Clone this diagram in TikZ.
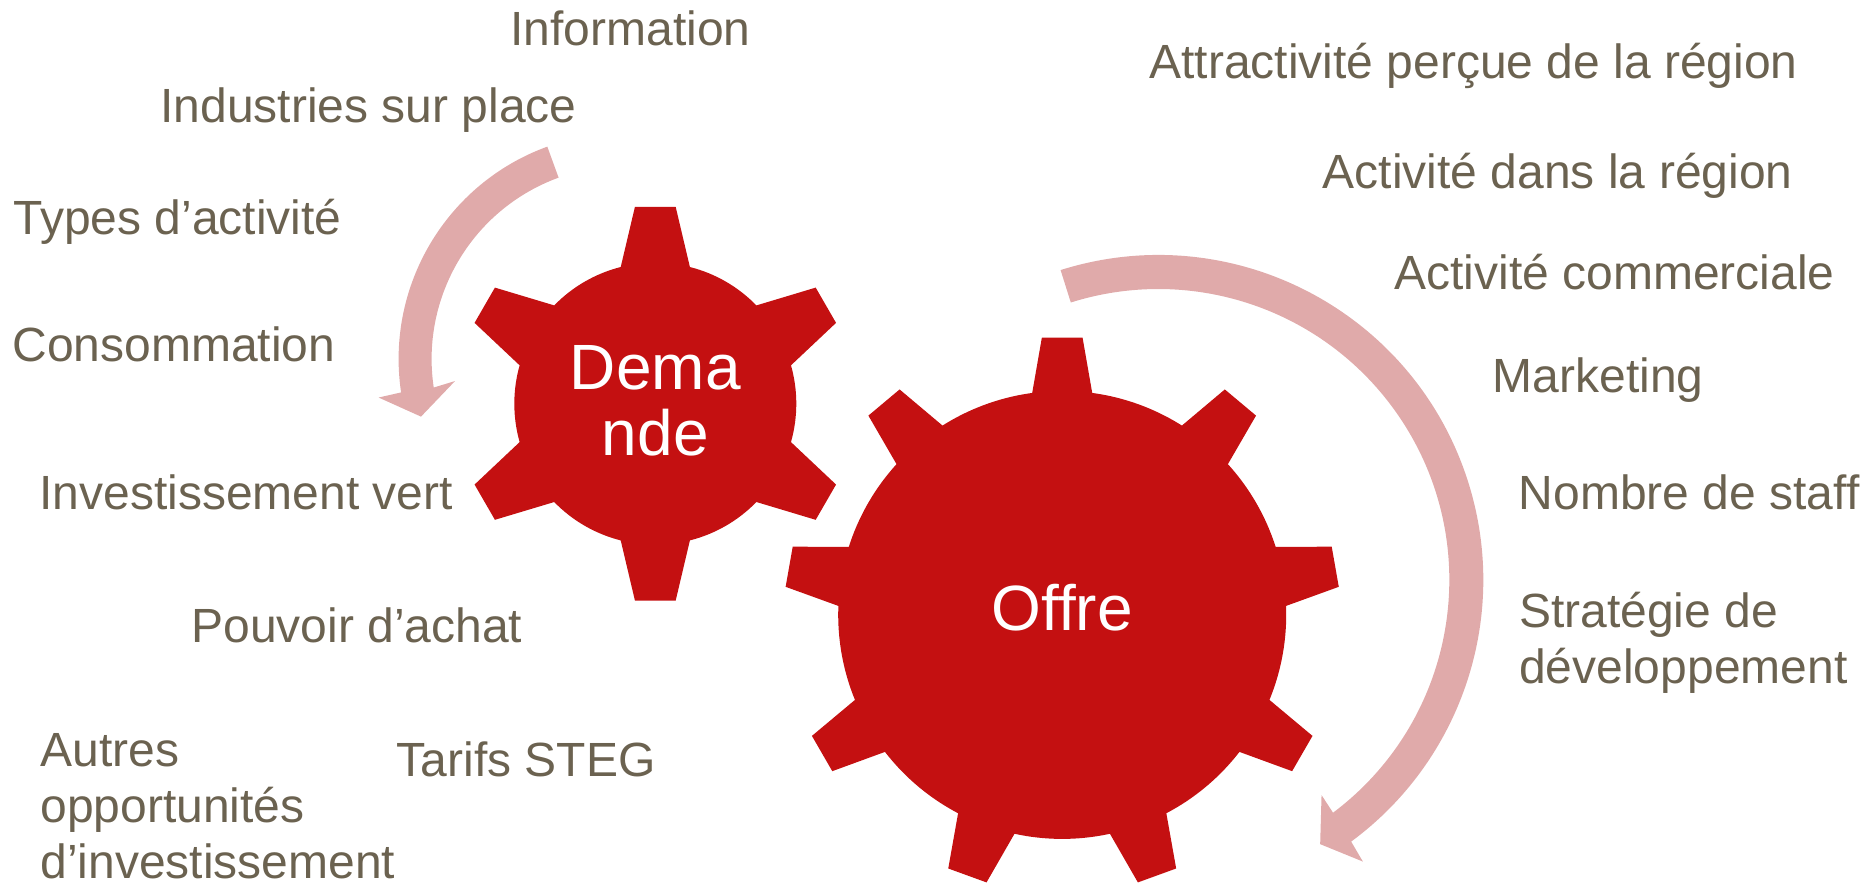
\documentclass[tikz,border=0pt]{standalone}
\usepackage{fontspec}
\setmainfont{Liberation Sans}
\definecolor{gearred}{RGB}{196,16,17}
\definecolor{arrowpink}{RGB}{224,170,170}
\definecolor{textbrown}{RGB}{107,98,80}
\tikzset{
  lbl/.style={anchor=base west, inner sep=0pt, text=textbrown, font=\fontsize{24}{28}\selectfont},
  gearlbl/.style={inner sep=0pt, text=white, align=center, font=\fontsize{32}{33}\selectfont}
}
\newcommand{\lines}[1]{\begin{tabular}[t]{@{}l@{}}#1\end{tabular}}

\begin{document}
\begin{tikzpicture}[x=0.5pt, y=0.5pt]
    \useasboundingbox (0,0) rectangle (1866,-885);

    % circular arrows
    \begin{scope}[shift={(624.6,-359)}]
        \fill[arrowpink] (110:226) arc[start angle=110, end angle=188.5, radius=226]
            -- (188.9:249) -- (195.8:211.6) -- (187.4:171) -- (188.5:193)
            arc[start angle=188.5, end angle=110, radius=193] -- cycle;
    \end{scope}
    \begin{scope}[shift={(1158.3,-580)}]
        \fill[arrowpink] (107.5:325) arc[start angle=107.5, end angle=-53.6, radius=325]
            -- (-54:348) -- (-58.5:309.8) -- (-52.8:270) -- (-53.1:291)
            arc[start angle=-53.1, end angle=107.5, radius=291] -- cycle;
    \end{scope}

    % gears
    \begin{scope}[shift={(655.3,-403.7)}]
        \fill[gearred] (75.8:141) \foreach \a in {90,150,...,390} {
            -- ({\a-5.9}:198) -- ({\a+5.9}:198) -- ({\a+14.2}:141)
            arc[start angle={\a+14.2}, end angle={\a+45.8}, radius=141]
        } -- cycle;
    \end{scope}
    \begin{scope}[shift={(1062.2,-614.9)}]
        \fill[gearred] (82.3:224) \foreach \a in {90,130,...,410} {
            -- ({\a-4.2}:278) -- ({\a+4.2}:278) -- ({\a+7.7}:224)
            arc[start angle={\a+7.7}, end angle={\a+32.3}, radius=224]
        } -- cycle;
    \end{scope}
    \node[gearlbl] (demande) at (655.3,-401) {Dema\\nde};
    \node[gearlbl, anchor=base] (offre) at (1062.2,-630) {Offre};

    % demand side
    \node[lbl] (info) at (510,-45) {Information};
    \node[lbl] (industries) at (160,-122) {Industries sur place};
    \node[lbl] (types) at (13,-234) {Types d’activité};
    \node[lbl] (conso) at (12,-361) {Consommation};
    \node[lbl] (invest) at (39,-509) {Investissement vert};
    \node[lbl] (pouvoir) at (191,-642.7) {Pouvoir d’achat};
    \node[lbl] (autres) at (40,-766.7) {\lines{Autres\\opportunités\\d’investissement}};
    \node[lbl] (tarifs) at (396.5,-776) {Tarifs STEG};

    % supply side
    \node[lbl] (attract) at (1149,-78.5) {Attractivité perçue de la région};
    \node[lbl] (activite) at (1322.5,-188) {Activité dans la région};
    \node[lbl] (commerce) at (1394,-289.5) {Activité commerciale};
    \node[lbl] (marketing) at (1492.4,-392.3) {Marketing};
    \node[lbl] (staff) at (1518.5,-509.3) {Nombre de staff};
    \node[lbl] (strategie) at (1518.8,-627.3) {\lines{Stratégie de\\développement}};
\end{tikzpicture}
\end{document}
